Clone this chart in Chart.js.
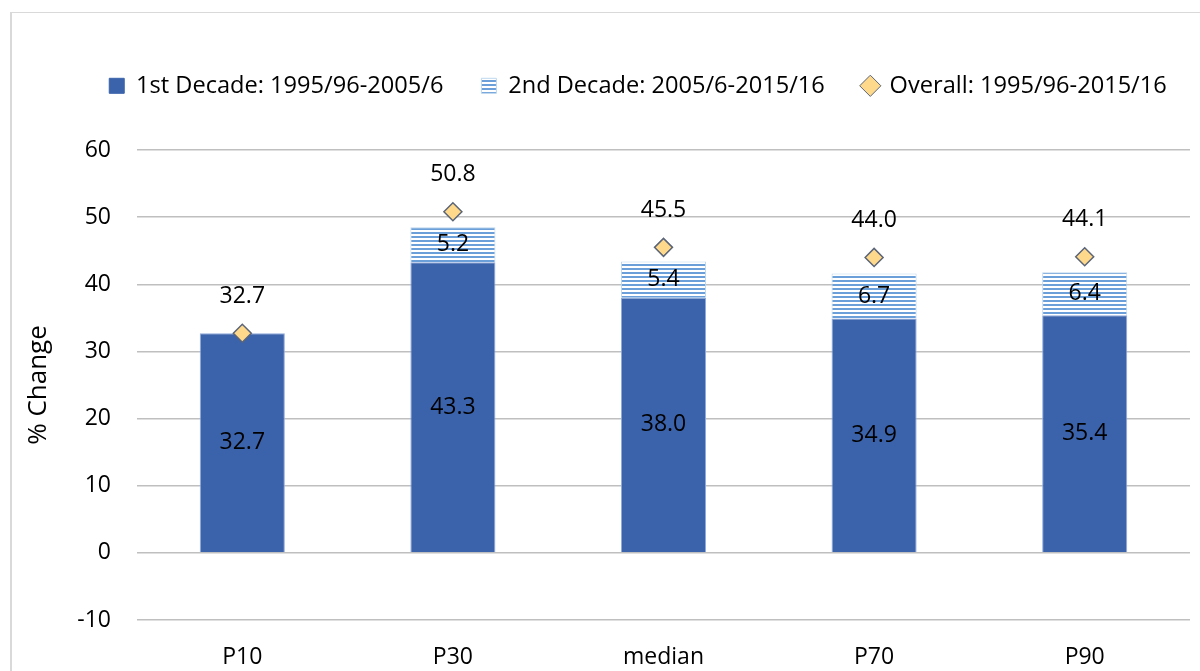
<!DOCTYPE html>
<html>
<head>
<meta charset="utf-8">
<script src="https://cdn.jsdelivr.net/npm/chart.js@4/dist/chart.umd.min.js"></script>
<style>
  html, body { margin: 0; padding: 0; background: #fff; overflow: hidden; }
  #wrap { position: relative; width: 1200px; height: 671px; overflow: hidden; }
  #frame { position: absolute; left: 10px; top: 12px; width: 1300px; height: 700px;
           border-left: 2px solid #d9d9d9; border-top: 1px solid #d9d9d9; }
  #c { position: absolute; left: 0; top: 0; }
</style>
</head>
<body>
<div id="wrap">
  <div id="frame"></div>
  <canvas id="c" width="1276" height="671"></canvas>
</div>
<script>
  // percentiles and % changes
  const categories = ["P10", "P30", "median", "P70", "P90"];
  const firstDecade = [32.7, 43.3, 38.0, 34.9, 35.4];
  const secondDecade = [null, 5.2, 5.4, 6.7, 6.4];
  const overall = [32.7, 50.8, 45.5, 44.0, 44.1];
  const yTicks = [-10, 0, 10, 20, 30, 40, 50, 60];

  const FONT = "'Open Sans', sans-serif";
  const FS = 23;

  // horizontal stripe fill for the 2nd decade
  function stripes() {
    const t = document.createElement("canvas");
    t.width = 8; t.height = 4;
    const g = t.getContext("2d");
    g.fillStyle = "#ffffff";
    g.fillRect(0, 0, 8, 4);
    g.fillStyle = "#6a9fd9";
    g.fillRect(0, 0, 8, 2);
    return g.createPattern(t, "repeat");
  }

  const canvas = document.getElementById("c");
  const ctx = canvas.getContext("2d");
  const stripeFill = stripes();

  // value labels
  const labelPlugin = {
    id: "valueLabels",
    afterDatasetsDraw(chart) {
      const c = chart.ctx;
      c.save();
      c.font = FS + "px " + FONT;
      c.fillStyle = "#000";
      c.textAlign = "center";
      c.textBaseline = "middle";
      chart.data.datasets.forEach((ds, i) => {
        const meta = chart.getDatasetMeta(i);
        meta.data.forEach((el, j) => {
          const v = ds.data[j];
          if (v == null) return;
          if (meta.type === "bar") {
            c.fillText(v.toFixed(1), el.x, (el.y + el.base) / 2);
          } else {
            c.fillText(v.toFixed(1), el.x, el.y - 37);
          }
        });
      });
      c.restore();
    }
  };

  // fixed legend height so the plot starts lower
  const legendGap = {
    id: "legendGap",
    beforeInit(chart) {
      const fit = chart.legend.fit;
      chart.legend.fit = function () {
        fit.call(this);
        this.height = 114;
      };
    }
  };

  new Chart(ctx, {
    data: {
      labels: categories,
      datasets: [{
        type: "bar",
        label: "1st Decade: 1995/96-2005/6",
        data: firstDecade,
        backgroundColor: "#3b63ac",
        borderColor: "#8ea9db",
        borderWidth: 1,
        stack: "decades",
        order: 1,
        categoryPercentage: 1,
        barPercentage: 0.404
      }, {
        type: "bar",
        label: "2nd Decade: 2005/6-2015/16",
        data: secondDecade,
        backgroundColor: stripeFill,
        borderColor: "#bdd7ee",
        borderWidth: 1,
        stack: "decades",
        order: 1,
        categoryPercentage: 1,
        barPercentage: 0.404
      }, {
        type: "line",
        label: "Overall: 1995/96-2015/16",
        data: overall,
        showLine: false,
        pointStyle: "rectRot",
        pointRadius: 9,
        pointHoverRadius: 9,
        pointBackgroundColor: "#ffd98b",
        pointBorderColor: "#5b6578",
        pointBorderWidth: 1.5,
        backgroundColor: "#ffd98b",
        borderColor: "#5b6578",
        stack: "overall",
        order: 0
      }]
    },
    options: {
      responsive: false,
      animation: false,
      layout: { padding: { left: 12, right: 12, top: 36, bottom: 0 } },
      plugins: {
        legend: {
          display: true,
          position: "top",
          labels: {
            color: "#000",
            font: { family: FONT, size: 23.6 },
            boxWidth: 15,
            boxHeight: 15,
            padding: 38,
            usePointStyle: true,
            generateLabels(chart) {
              return chart.data.datasets.map((ds, i) => ({
                text: ds.label,
                fillStyle: i === 2 ? "#ffd98b" : ds.backgroundColor,
                strokeStyle: i === 2 ? "#5b6578" : (i === 1 ? "#bdd7ee" : "#3b63ac"),
                lineWidth: 1,
                pointStyle: i === 2 ? "rectRot" : "rect",
                hidden: false,
                datasetIndex: i
              }));
            }
          }
        },
        tooltip: { enabled: false }
      },
      scales: {
        x: {
          stacked: true,
          grid: { display: false },
          border: { display: false },
          ticks: { color: "#000", font: { family: FONT, size: FS }, padding: 16 },
          afterFit(axis) { axis.height = 51; }
        },
        y: {
          stacked: true,
          min: -10,
          max: 60,
          afterBuildTicks(axis) { axis.ticks = yTicks.map(v => ({ value: v })); },
          grid: { color: "#bfbfbf", lineWidth: 1.5, drawTicks: false },
          border: { display: false },
          ticks: { color: "#000", font: { family: FONT, size: FS }, padding: 26 },
          title: {
            display: true,
            text: "% Change",
            color: "#000",
            font: { family: FONT, size: 26 },
            padding: { top: 11, bottom: 0 }
          },
          afterFit(axis) { axis.width = 125; }
        },
        y2: {
          position: "right",
          display: true,
          grid: { display: false },
          border: { display: false },
          ticks: { display: false },
          afterFit(axis) { axis.width = 74; }
        }
      }
    },
    plugins: [labelPlugin, legendGap]
  });
</script>
</body>
</html>
